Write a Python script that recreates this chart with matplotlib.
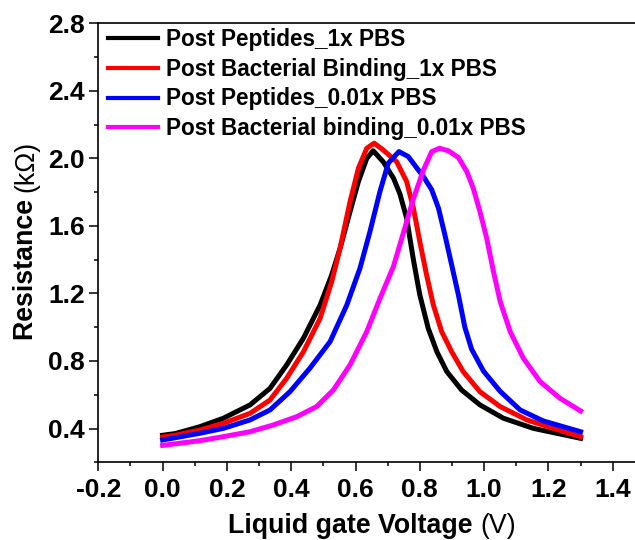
import matplotlib
matplotlib.use("Agg")
import matplotlib.pyplot as plt
from matplotlib.ticker import MultipleLocator, FormatStrFormatter

plt.rcParams['font.family'] = ['Liberation Sans', 'DejaVu Sans']

# Post Peptides_1x PBS
pep_1x_v = [0.0, 0.039, 0.116, 0.189, 0.272, 0.334, 0.386, 0.438, 0.49, 0.526, 0.552,
            0.583, 0.609, 0.635, 0.655, 0.686, 0.718, 0.738, 0.759, 0.78, 0.80, 0.826,
            0.853, 0.884, 0.93, 0.987, 1.06, 1.153, 1.30]
pep_1x_r = [0.36, 0.37, 0.411, 0.461, 0.54, 0.638, 0.777, 0.935, 1.132, 1.31, 1.468,
            1.685, 1.863, 2.0, 2.045, 1.98, 1.883, 1.79, 1.646, 1.40, 1.191, 0.994,
            0.855, 0.737, 0.628, 0.54, 0.461, 0.401, 0.342]

# Post Bacterial Binding_1x PBS
bac_1x_v = [0.0, 0.039, 0.116, 0.189, 0.272, 0.334, 0.386, 0.438, 0.49, 0.526, 0.552,
            0.583, 0.609, 0.635, 0.658, 0.686, 0.728, 0.759, 0.78, 0.80, 0.821, 0.842,
            0.868, 0.899, 0.935, 0.987, 1.05, 1.133, 1.215, 1.30]
bac_1x_r = [0.35, 0.36, 0.391, 0.431, 0.49, 0.569, 0.698, 0.855, 1.053, 1.27, 1.468,
            1.744, 1.942, 2.06, 2.09, 2.05, 1.98, 1.863, 1.705, 1.507, 1.31, 1.132,
            0.974, 0.855, 0.737, 0.618, 0.53, 0.451, 0.401, 0.352]

# Post Peptides_0.01x PBS
pep_001_v = [0.0, 0.116, 0.189, 0.272, 0.334, 0.396, 0.458, 0.521, 0.573, 0.614, 0.645,
             0.676, 0.702, 0.735, 0.764, 0.795, 0.811, 0.837, 0.858, 0.878, 0.899, 0.92,
             0.94, 0.961, 0.998, 1.05, 1.112, 1.184, 1.30]
pep_001_r = [0.332, 0.372, 0.401, 0.451, 0.51, 0.618, 0.757, 0.915, 1.132, 1.35, 1.567,
             1.804, 1.972, 2.04, 2.011, 1.932, 1.893, 1.814, 1.705, 1.547, 1.369, 1.191,
             1.00, 0.87, 0.74, 0.62, 0.51, 0.445, 0.381]

# Post Bacterial binding_0.01x PBS
bac_001_v = [0.0, 0.116, 0.189, 0.272, 0.344, 0.417, 0.479, 0.531, 0.583, 0.635, 0.676,
             0.718, 0.749, 0.78, 0.811, 0.837, 0.861, 0.889, 0.92, 0.946, 0.966, 0.987,
             1.008, 1.029, 1.05, 1.081, 1.122, 1.174, 1.236, 1.30]
bac_001_r = [0.30, 0.328, 0.352, 0.381, 0.421, 0.47, 0.53, 0.628, 0.777, 0.974, 1.17,
             1.36, 1.56, 1.76, 1.93, 2.04, 2.06, 2.045, 2.005, 1.922, 1.824, 1.685,
             1.527, 1.33, 1.152, 0.974, 0.816, 0.678, 0.579, 0.504]

labels = ["Post Peptides_1x PBS", "Post Bacterial Binding_1x PBS",
          "Post Peptides_0.01x PBS", "Post Bacterial binding_0.01x PBS"]
colors = ["black", "red", "blue", "magenta"]

fig = plt.figure(figsize=(6.35, 5.4), dpi=100)
# right edge of the axes is cropped off the picture, like the original
ax = fig.add_axes([98.3 / 635, 77.7 / 540, 546.6 / 635, 439.0 / 540])

series = [(pep_1x_v, pep_1x_r), (bac_1x_v, bac_1x_r),
          (pep_001_v, pep_001_r), (bac_001_v, bac_001_r)]
for (v, r), lab, c in zip(series, labels, colors):
    ax.plot(v, r, color=c, lw=3.6, label=lab)

ax.set_xlim(-0.2, 1.5)
ax.set_ylim(0.2, 2.8)
ax.set_xticks([-0.2, 0.0, 0.2, 0.4, 0.6, 0.8, 1.0, 1.2, 1.4])
ax.set_yticks([0.4, 0.8, 1.2, 1.6, 2.0, 2.4, 2.8])
ax.xaxis.set_minor_locator(MultipleLocator(0.1))
ax.yaxis.set_minor_locator(MultipleLocator(0.2))
ax.xaxis.set_major_formatter(FormatStrFormatter('%.1f'))
ax.yaxis.set_major_formatter(FormatStrFormatter('%.1f'))
ax.tick_params(which='major', direction='out', length=6.5, width=1.1, labelsize=19, pad=3)
ax.tick_params(which='minor', direction='out', length=3, width=1.1)
ax.tick_params(axis='x', which='major', pad=5)
ax.tick_params(right=False, top=False)
for lab in ax.get_xticklabels() + ax.get_yticklabels():
    lab.set_fontweight('bold')
for s in ax.spines.values():
    s.set_linewidth(1.2)

leg = ax.legend(loc='upper left', bbox_to_anchor=(0.006, 1.005), frameon=False,
                prop={'weight': 'bold', 'size': 16.3}, handlelength=2.2,
                handletextpad=0.35, labelspacing=0.3, borderaxespad=0.1,
                borderpad=0.2)
for h in leg.get_lines():
    h.set_linewidth(3)

# axis labels: bold name, regular unit
fig.text(480 / 635, 7 / 540, "Liquid gate Voltage ", ha='right', va='baseline',
         fontsize=19.3, fontweight='bold')
fig.text(480 / 635, 7 / 540, "(V)", ha='left', va='baseline', fontsize=19.3)
fig.text(33 / 635, (540 - 192) / 540, "Resistance ", rotation=90, ha='right',
         va='baseline', fontsize=19.3, fontweight='bold', rotation_mode='anchor')
fig.text(33 / 635, (540 - 192) / 540, "(k\u03a9)", rotation=90, ha='left',
         va='baseline', fontsize=19.3, rotation_mode='anchor')

fig.savefig("out.png", dpi=100)
